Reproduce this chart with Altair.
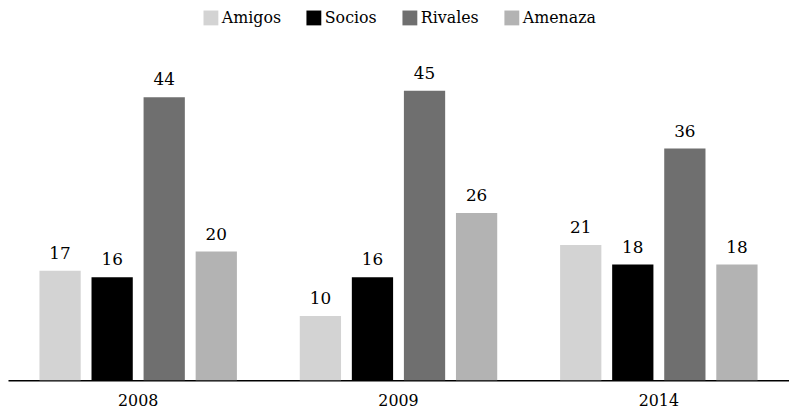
import altair as alt
import pandas as pd

years = ["2008", "2009", "2014"]
categories = ["Amigos", "Socios", "Rivales", "Amenaza"]
colors = ["#d3d3d3", "#000000", "#6f6f6f", "#b3b3b3"]
values = {
    "Amigos": [17, 10, 21],
    "Socios": [16, 16, 18],
    "Rivales": [44, 45, 36],
    "Amenaza": [20, 26, 18],
}

rows = []
for c in categories:
    for y, v in zip(years, values[c]):
        rows.append({"year": y, "cat": c, "value": v})
df = pd.DataFrame(rows)

FONT = "DejaVu Serif"

x = alt.X("year:N", sort=years, title=None,
          scale=alt.Scale(paddingInner=0.2415, paddingOuter=0.1208),
          axis=alt.Axis(labelAngle=0, ticks=False, domainColor="#000000",
                        domainWidth=1.5, labelFontSize=16, labelFont=FONT,
                        labelColor="#000000", labelPadding=26,
                        labelBaseline="alphabetic"))
xo = alt.XOffset("cat:N", sort=categories,
                 scale=alt.Scale(paddingInner=0.2075, paddingOuter=0))
y = alt.Y("value:Q", scale=alt.Scale(domain=[0, 50]), axis=None)

bars = alt.Chart(df).mark_bar().encode(
    x=x, xOffset=xo, y=y,
    color=alt.Color("cat:N", sort=categories,
                    scale=alt.Scale(domain=categories, range=colors),
                    legend=alt.Legend(title=None, orient="none", direction="horizontal",
                                      legendX=197, legendY=-49, symbolType="square",
                                      symbolSize=225, symbolStrokeWidth=0,
                                      labelFont=FONT, labelFontSize=16,
                                      labelColor="#000000", columnPadding=25,
                                      symbolOffset=0, labelOffset=3)),
)

text = alt.Chart(df).mark_text(baseline="alphabetic", dy=-12, fontSize=17, font=FONT,
                               color="#000000").encode(
    x=x, xOffset=xo, y=y, text="value:Q")

chart = (bars + text).properties(
    width=789, height=325,
    autosize=alt.AutoSizeParams(type="none"),
    padding={"left": 0, "top": 49, "right": 0, "bottom": 27},
).configure_view(stroke=None)

chart.save("out.html", embed_options={"renderer": "svg", "actions": False})
